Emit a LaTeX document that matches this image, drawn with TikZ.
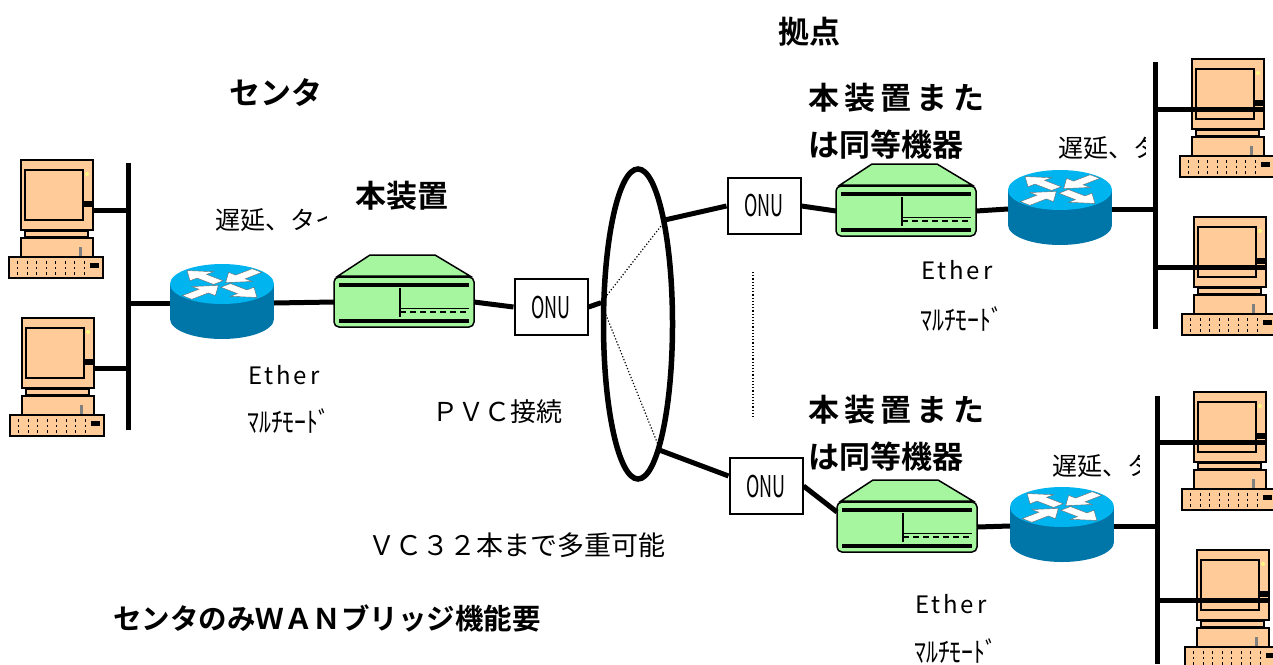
\documentclass[tikz,border=0pt]{standalone}
\usepackage{fontspec}
\setmainfont{Noto Sans CJK JP}[BoldFont={Noto Sans CJK JP Bold}]
\usepackage{graphicx}
\usetikzlibrary{shapes.geometric}

\definecolor{pcbody}{RGB}{255,204,153}
\definecolor{boxgreen}{RGB}{166,246,160}
\definecolor{rtrtop}{RGB}{0,180,240}
\definecolor{rtrside}{RGB}{0,118,168}

\newcommand\spaced[2]{{\addfontfeatures{LetterSpace=#1}#2}}
\newcommand\multimode{\scalebox{0.85}[1]{ﾏﾙﾁﾓｰﾄﾞ}}

\tikzset{
  % desktop pc, origin at the top left of the monitor
  pc/.pic={
    \draw[line width=2.4,fill=pcbody] (0,0) rectangle (72,70);
    \draw[line width=2.2] (4,10) rectangle (62,60);
    \fill[yellow!50] (66,14) circle (2);
    \fill (62,41) rectangle (72,47);
    \draw[line width=1.8,fill=pcbody] (4,71) rectangle (67,77);
    \draw[line width=2.2,fill=pcbody] (0,78) rectangle (72,97);
    \fill[gray] (58,87) rectangle (61,97);
    \draw[line width=2.2,fill=pcbody] (-12,97) rectangle (82,118);
    \foreach \i in {0,...,7}
      \foreach \j in {0,1,2}
        \fill (-4+9.5*\i,101+5.5*\j) rectangle ++(1.3,2.8);
    \fill (69,103) rectangle (78,108);
    \coordinate (-port) at (72,50);
  },
  % router cylinder, origin at the centre of the top face
  router/.pic={
    \fill[rtrside] (0,35) ellipse [x radius=52,y radius=20];
    \fill[rtrside] (-52,0) rectangle (52,35);
    \fill[rtrtop] (0,0) ellipse [x radius=52,y radius=20];
    \begin{scope}[xscale=52,yscale=20,fill=white,draw=black!60,line width=.4]
      \foreach \a in {-45,135}
        \filldraw[rotate=\a] (0.1,-0.13) -- (0.55,-0.13) -- (0.55,-0.32) -- (0.95,0)
          -- (0.55,0.32) -- (0.55,0.13) -- (0.1,0.13) -- cycle;
      \foreach \a in {45,-135}
        \filldraw[rotate=\a] (0.95,-0.13) -- (0.5,-0.13) -- (0.5,-0.32) -- (0.1,0)
          -- (0.5,0.32) -- (0.5,0.13) -- (0.95,0.13) -- cycle;
    \end{scope}
    \coordinate (-w) at (-52,19);
    \coordinate (-e) at (52,19);
  },
  % the bridge box, origin at the top left of the case
  bridge/.pic={
    \draw[line width=1.5,fill=boxgreen] (4,-1) -- (36,-22) -- (101,-22) -- (136,-1) -- cycle;
    \draw[line width=1.5,fill=boxgreen,rounded corners=5] (0,0) rectangle (140,50);
    \fill (5,6) rectangle (135,10);
    \fill (5,42) rectangle (135,46);
    \draw[line width=1.5] (66,11) -- (66,40);
    \draw[line width=.8] (66,31) -- (135,31);
    \draw[line width=2,dash pattern=on 6 off 4] (66,35) -- (135,35);
    \coordinate (-w) at (0,25);
    \coordinate (-nw) at (0,10);
    \coordinate (-e) at (140,25);
  }
}

\begin{document}
\begin{tikzpicture}[x=1pt,y=-1pt,
  link/.style={line width=5},
  onu/.style={draw,line width=2,fill=white,minimum width=73,minimum height=56,inner sep=0pt,
    font=\fontsize{30}{30}\selectfont},
  head/.style={font=\bfseries\fontsize{31}{31}\selectfont,inner sep=0pt,anchor=west},
  label/.style={font=\fontsize{25}{25}\selectfont,inner sep=0pt,anchor=west},
  dots/.style={line width=1.2,dash pattern=on 1.2 off 2}]
\useasboundingbox (0,0) rectangle (1273,664);

% centre side
\coordinate (lbusT) at (128,163);
\coordinate (lbusB) at (128,430);
\draw[line width=5] (lbusT) -- (lbusB);
\pic (pc1) at (21,160) {pc};
\pic (pc2) at (22,318) {pc};
\draw[link] (pc1-port) -- (pc1-port -| lbusT);
\draw[link] (pc2-port) -- (pc2-port -| lbusT);
\pic (r1) at (222,284) {router};
\draw[link] (r1-w) -- (r1-w -| lbusT);
\pic (d1) at (334,277) {bridge};
\node[onu] (onu1) at (551,307) {\scalebox{0.6}[1]{ONU}};
\draw[link] (r1-e) -- (d1-w);
\draw[link] (d1-e) -- (onu1.west);

% the network
\node[ellipse,draw,line width=5.5,minimum width=69,minimum height=310,inner sep=0pt] (cloud) at (638,324) {};
\draw[link] (onu1.east) -- (cloud.150);
\draw[dots] (cloud.150) -- (cloud.75);
\draw[dots] (cloud.150) -- (cloud.-80);
\draw[dots] (753,272) -- (753,417);

% first branch
\node[onu] (onu2) at (764,206) {\scalebox{0.6}[1]{ONU}};
\pic (d2) at (836,186) {bridge};
\pic (r2) at (1060,190) {router};
\coordinate (rbus1T) at (1155,62);
\coordinate (rbus1B) at (1155,329);
\draw[line width=5] (rbus1T) -- (rbus1B);
\pic (pc3) at (1192,59) {pc};
\pic (pc4) at (1194,217) {pc};
\draw[link] (cloud.75) -- (onu2.west);
\draw[link] (onu2.east) -- (d2-w);
\draw[link] (d2-e) -- (r2-w);
\draw[link] (r2-e) -- (r2-e -| rbus1T);
\draw[link] (pc3-port) -- (pc3-port -| rbus1T);
\draw[link] (pc4-port) -- (pc4-port -| rbus1T);

% second branch
\node[onu] (onu3) at (766,486) {\scalebox{0.6}[1]{ONU}};
\pic (d3) at (837,502) {bridge};
\pic (r3) at (1062,507) {router};
\coordinate (rbus2T) at (1157,396);
\coordinate (rbus2B) at (1157,664);
\draw[line width=5] (rbus2T) -- (rbus2B);
\pic (pc5) at (1194,392) {pc};
\pic (pc6) at (1197,550) {pc};
\draw[link] (cloud.-80) -- (onu3.165);
\draw[link] (onu3.east) -- (d3-nw);
\draw[link] (d3-e) -- (r3-w);
\draw[link] (r3-e) -- (r3-e -| rbus2T);
\draw[link] (pc5-port) -- (pc5-port -| rbus2T);
\draw[link] (pc6-port) -- (pc6-port -| rbus2T);

% labels
\node[head] (center) at (229,93) {センタ};
\node[head] (unit) at (355,196) {本装置};
\node[head] (site) at (778,32) {拠点};
\node[head] (unit2a) at (808,98) {\spaced{17}{本装置また}};
\node[head] (unit2b) at (808,145) {は同等機器};
\node[head] (unit3a) at (808,410) {\spaced{17}{本装置また}};
\node[head] (unit3b) at (808,457) {は同等機器};
\node[head,font=\bfseries\fontsize{28.5}{28.5}\selectfont] (bridgeonly) at (113,618) {センタのみＷＡＮブリッジ機能要};

\begin{scope}
  \clip (200,200) rectangle (326,240);
  \node[label] (delay1) at (215,220) {遅延、タイ};
\end{scope}
\begin{scope}
  \clip (1040,128) rectangle (1145,168);
  \node[label] (delay2) at (1058,148) {遅延、タイ};
\end{scope}
\begin{scope}
  \clip (1040,446) rectangle (1139,486);
  \node[label] (delay3) at (1052,466) {遅延、タイ};
\end{scope}

\node[label,font=\fontsize{24}{24}\selectfont] (eth1) at (248,375) {\spaced{12}{Ether}};
\node[label,font=\fontsize{28}{28}\selectfont] (mm1) at (247,421) {\multimode};
\node[label,font=\fontsize{24}{24}\selectfont] (eth2) at (921,270) {\spaced{12}{Ether}};
\node[label,font=\fontsize{28}{28}\selectfont] (mm2) at (920,319) {\multimode};
\node[label,font=\fontsize{24}{24}\selectfont] (eth3) at (915,604) {\spaced{12}{Ether}};
\node[label,font=\fontsize{28}{28}\selectfont] (mm3) at (914,651) {\multimode};

\node[label,font=\fontsize{26}{26}\selectfont] (pvc) at (432,412) {ＰＶＣ接続};
\node[label,font=\fontsize{27}{27}\selectfont] (vc32) at (368,545) {ＶＣ３２本まで多重可能};
\end{tikzpicture}
\end{document}
